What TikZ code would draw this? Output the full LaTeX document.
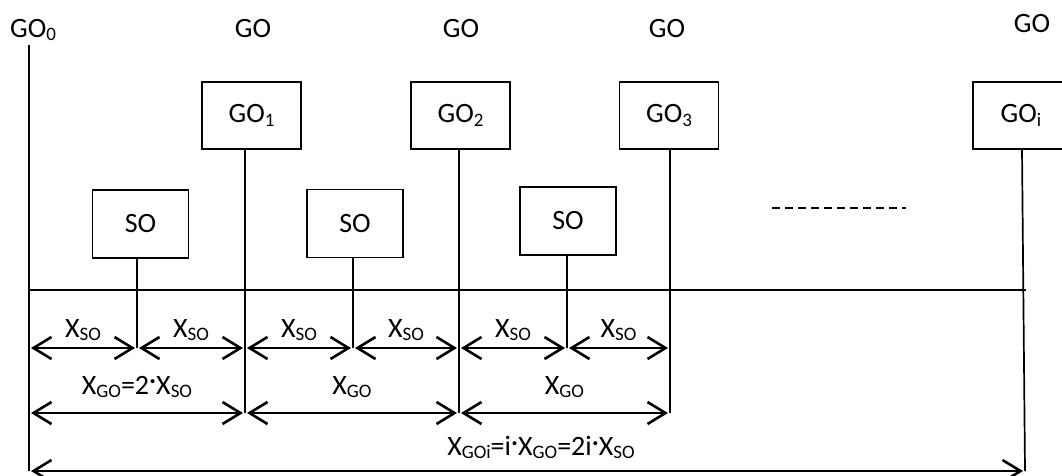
\documentclass[tikz,border=0pt]{standalone}
\usepackage{fontspec}
\setmainfont{Carlito}
\usetikzlibrary{arrows.meta,calc}
\newcommand{\lo}[1]{\raisebox{-0.28ex}{\fontsize{19}{19}\selectfont #1}}
\newcommand{\cdt}{\raisebox{0.3ex}{·}}
\begin{document}
\begin{tikzpicture}[x=1pt,y=-1pt,
  every node/.style={font=\fontsize{28}{33}\selectfont, inner sep=0pt},
  box/.style={draw, line width=1.8pt, minimum width=99pt, minimum height=67pt},
  sobox/.style={draw, line width=1.8pt, minimum width=96pt, minimum height=68pt},
  wire/.style={line width=1.7pt},
  dim/.style={line width=2.6pt, shorten <=2pt, shorten >=2pt,
    {Straight Barb[length=18pt,width=22pt]}-{Straight Barb[length=18pt,width=22pt]}},
  lbl/.style={anchor=base},
  lab1/.style={midway, anchor=base, yshift=11pt},
  lab2/.style={midway, anchor=base, yshift=19pt},
  lab3/.style={midway, anchor=base, yshift=16pt, xshift=14pt}]
\useasboundingbox (0,0) rectangle (1062,475);
\clip (0,0) rectangle (1062,475);

% top labels
\node[lbl] (t0) at (33,37) {GO\lo{0}};
\node[lbl] (t1) at (253,37) {GO};
\node[lbl] (t2) at (461,37) {GO};
\node[lbl] (t3) at (667,37) {GO};
\node[lbl] (t4) at (1032,32) {GO};

% boxes
\node[box] (g1) at (251.5,115.5) {GO\lo{1}};
\node[box] (g2) at (460.5,115.5) {GO\lo{2}};
\node[box] (g3) at (669,115.5) {GO\lo{3}};
\node[box, minimum width=110pt] (gi) at (1028,115.5) {GO\lo{i}\kern14pt};
\node[sobox] (s1) at (140.5,224) {SO};
\node[sobox] (s2) at (355,223.5) {SO};
\node[sobox] (s3) at (568,221) {SO};

% coordinates
\coordinate (a0) at (29,45);
\coordinate (b0) at (29,471);
\coordinate (bs1) at (137,348);
\coordinate (bg1) at (245,413);
\coordinate (bs2) at (353,348);
\coordinate (bg2) at (459,413);
\coordinate (bs3) at (567,348);
\coordinate (bg3) at (670,413);
\coordinate (bgi) at (1025,471);
\coordinate (hl) at (28,290);
\coordinate (hr) at (1026,290);
\coordinate (d1) at (772,208);
\coordinate (d2) at (906,208);

% wires
\draw[wire] (a0) -- (b0);
\draw[wire] (hl) -- (hr);
\draw[wire] (g1.south -| bg1) -- (bg1);
\draw[wire] (g2.south -| bg2) -- (bg2);
\draw[wire] (g3.south -| bg3) -- (bg3);
\draw[wire] ([xshift=-6pt]gi.south) -- (bgi);
\draw[wire] (s1.south -| bs1) -- (bs1);
\draw[wire] (s2.south -| bs2) -- (bs2);
\draw[wire] (s3.south -| bs3) -- (bs3);
\draw[wire, dash pattern=on 8pt off 5pt] (d1) -- (d2);

% dimension row 1
\draw[dim] (b0 |- bs1) -- node[lab1] {X\lo{SO}} (bs1);
\draw[dim] (bs1) -- node[lab1] {X\lo{SO}} (bg1 |- bs1);
\draw[dim] (bg1 |- bs1) -- node[lab1] {X\lo{SO}} (bs2);
\draw[dim] (bs2) -- node[lab1] {X\lo{SO}} (bg2 |- bs1);
\draw[dim] (bg2 |- bs1) -- node[lab1] {X\lo{SO}} (bs3);
\draw[dim] (bs3) -- node[lab1] {X\lo{SO}} (bg3 |- bs1);

% dimension row 2
\draw[dim] (b0 |- bg1) -- node[lab2] {X\lo{GO}=2\cdt X\lo{SO}} (bg1);
\draw[dim] (bg1) -- node[lab2] {X\lo{GO}} (bg2);
\draw[dim] (bg2) -- node[lab2] {X\lo{GO}} (bg3);

% dimension row 3
\draw[dim] (b0) -- node[lab3] {X\lo{GOi}=i\cdt X\lo{GO}=2i\cdt X\lo{SO}} (bgi);
\end{tikzpicture}
\end{document}
